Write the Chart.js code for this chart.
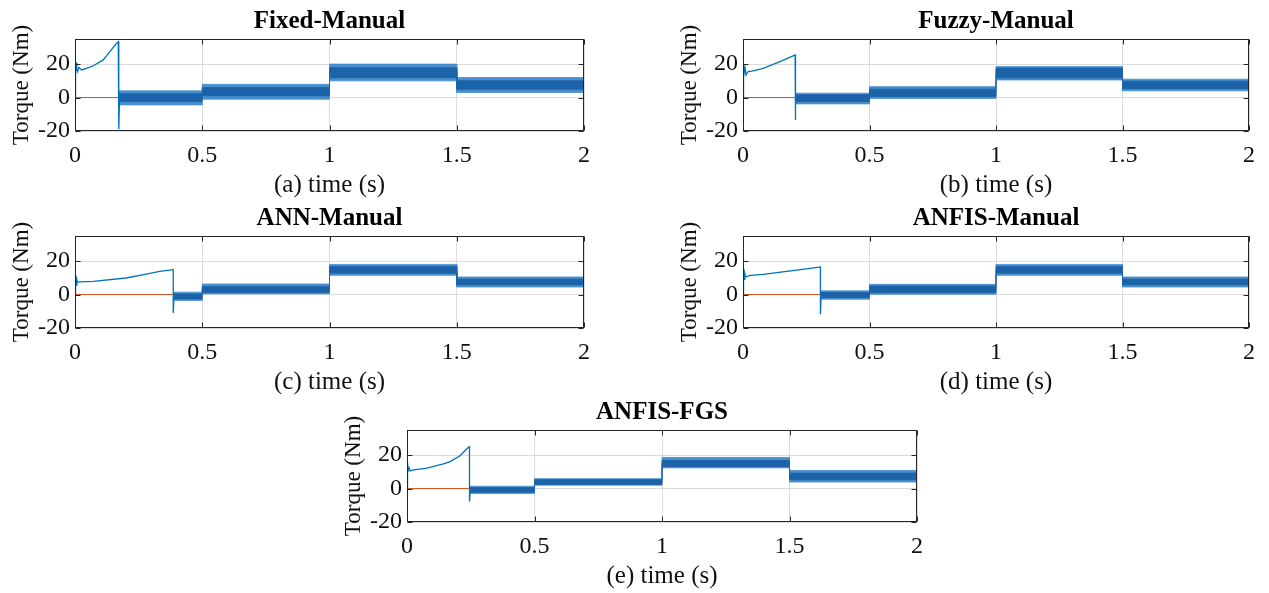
<!DOCTYPE html>
<html><head><meta charset="utf-8">
<script src="https://cdn.jsdelivr.net/npm/chart.js@4.4.1/dist/chart.umd.min.js"></script>
<style>
html,body{margin:0;padding:0;background:#fff;width:1269px;height:593px;overflow:hidden;position:relative}
canvas{position:absolute}
</style></head><body>
<canvas id="p0"></canvas><canvas id="p1"></canvas><canvas id="p2"></canvas><canvas id="p3"></canvas><canvas id="p4"></canvas>
<script>
// ---------- data ----------
const panelTitles = ['Fixed-Manual', 'Fuzzy-Manual', 'ANN-Manual', 'ANFIS-Manual', 'ANFIS-FGS'];
const xAxisTitles = ['(a) time (s)', '(b) time (s)', '(c) time (s)', '(d) time (s)', '(e) time (s)'];
const yAxisTitle = 'Torque (Nm)';
const timeTicks = [0, 0.5, 1, 1.5, 2];
const torqueTicks = [-20, 0, 20];

// reference (load) torque, red step line
const refTimes = [0, 0.5, 1, 1.5, 2];
const refTorque = [0, 3.5, 15, 7.5];

// start-up transient of the measured torque (time s, torque Nm)
const transTimeA = [0, 0.002, 0.004, 0.007, 0.010, 0.015, 0.026, 0.045, 0.072, 0.111, 0.137, 0.163, 0.170, 0.172, 0.172, 0.175];
const transTorqueA = [0, 12, 21, 17, 15.5, 18, 16.5, 17.5, 19, 22.5, 27.4, 32.4, 33.4, 33.6, -19, 0];
const transTimeB = [0, 0.002, 0.004, 0.008, 0.012, 0.020, 0.040, 0.080, 0.146, 0.198, 0.205, 0.206, 0.206, 0.209];
const transTorqueB = [0, 20, 14, 18, 13.5, 15.5, 16, 17.5, 21.5, 24.9, 25.5, 25.5, -13.4, 0];
const transTimeC = [0, 0.002, 0.004, 0.007, 0.010, 0.020, 0.072, 0.200, 0.280, 0.333, 0.379, 0.386, 0.386, 0.389];
const transTorqueC = [0, 11.2, 5.5, 9, 7.3, 7.6, 7.9, 9.9, 12.2, 13.8, 14.8, 15, -11, -1];
const transTimeD = [0, 0.002, 0.004, 0.007, 0.010, 0.030, 0.080, 0.172, 0.251, 0.301, 0.306, 0.306, 0.309];
const transTorqueD = [0, 14.5, 9.1, 12.5, 10.5, 11.5, 12.1, 13.9, 15.4, 16.4, 16.5, -11.7, -0.5];
const transTimeE = [0, 0.002, 0.004, 0.008, 0.012, 0.026, 0.078, 0.143, 0.169, 0.208, 0.240, 0.245, 0.245, 0.248];
const transTorqueE = [0, 15.7, 10.5, 12.5, 10.5, 11.2, 12.2, 14.7, 16.1, 19.6, 24.5, 25, -7.8, -0.8];

// controller switch-in time per panel (start of the ripple band)
const switchTimes = [0.172, 0.206, 0.386, 0.306, 0.245];

// ripple band envelopes per panel, one value per load segment
// segments: [switch..0.5], [0.5..1], [1..1.5], [1.5..2]
const outerHigh = [[4, 7.9, 20, 12], [2.6, 6.5, 18.5, 11], [1.4, 6.3, 18, 10.5], [2.2, 6.1, 18, 10.5], [1.4, 5.9, 18.6, 10.8]];
const outerLow  = [[-4.4, -1, 10, 3], [-3.8, -0.6, 10.5, 4], [-3.5, 0.4, 11.5, 4.5], [-2.8, 0.2, 11.5, 4.5], [-3, 2, 12.4, 3.9]];
const coreHigh  = [[2.2, 6, 17.8, 10], [1.6, 5, 17.6, 9.8], [0.4, 4.7, 16.8, 9.2], [1.2, 5.1, 16.8, 9.2], [0.6, 5.3, 16.7, 9.2]];
const coreLow   = [[-2.4, 1, 11.9, 5], [-2.4, 0.6, 11.8, 5.3], [-2.6, 1.4, 12.8, 5.8], [-1.8, 1.2, 12.8, 5.8], [-2.2, 2.5, 13.1, 5.3]];

const transTimes = [transTimeA, transTimeB, transTimeC, transTimeD, transTimeE];
const transTorques = [transTorqueA, transTorqueB, transTorqueC, transTorqueD, transTorqueE];

// ---------- layout (plot-area geometry in page pixels) ----------
const plotBoxes = [
  {left: 75, right: 585, top: 39},
  {left: 743, right: 1250, top: 39},
  {left: 75, right: 585, top: 236},
  {left: 743, right: 1250, top: 236},
  {left: 407, right: 918, top: 430}
];
const Y_AXIS_W = 75, RIGHT_PAD = 15, TITLE_H = 39, PLOT_H = 92, X_AXIS_H = 69;

const BLUE = 'rgb(0,114,189)';
const CORE = 'rgb(28,98,168)';
const OUTER = 'rgb(70,142,205)';
const RED = 'rgb(217,83,25)';
const TXT = '#111111';
const FONT = 'Liberation Serif';

function stepPoints(edges, values) {
  const pts = [];
  values.forEach((v, i) => { pts.push({x: edges[i], y: v}, {x: edges[i + 1], y: v}); });
  return pts;
}

const boxPlugin = {
  id: 'matlabBox',
  afterDatasetsDraw(chart) {
    const {ctx, chartArea: a, scales} = chart;
    ctx.save();
    ctx.strokeStyle = '#262626';
    ctx.lineWidth = 1;
    const l = Math.round(a.left) + 0.5, r = Math.round(a.right) - 0.5;
    const t = Math.round(a.top) + 0.5, b = Math.round(a.bottom) - 0.5;
    ctx.strokeRect(l, t, r - l, b - t);
    ctx.beginPath();
    timeTicks.forEach(v => {
      const px = Math.round(scales.x.getPixelForValue(v)) + 0.5;
      ctx.moveTo(px, b); ctx.lineTo(px, b - 5);
      ctx.moveTo(px, t); ctx.lineTo(px, t + 5);
    });
    torqueTicks.forEach(v => {
      const py = Math.round(scales.y.getPixelForValue(v)) + 0.5;
      ctx.moveTo(l, py); ctx.lineTo(l + 5, py);
      ctx.moveTo(r, py); ctx.lineTo(r - 5, py);
    });
    ctx.stroke();
    ctx.restore();
  }
};

plotBoxes.forEach((pb, p) => {
  const cv = document.getElementById('p' + p);
  const w = Y_AXIS_W + (pb.right - pb.left) + RIGHT_PAD;
  const h = TITLE_H + PLOT_H + X_AXIS_H;
  cv.width = w; cv.height = h;
  cv.style.width = w + 'px'; cv.style.height = h + 'px';
  cv.style.left = (pb.left - Y_AXIS_W) + 'px';
  cv.style.top = (pb.top - TITLE_H) + 'px';

  const segEdges = [switchTimes[p], 0.5, 1, 1.5, 2];
  const trans = transTimes[p].map((t, i) => ({x: t, y: transTorques[p][i]}));
  const line = {pointRadius: 0, pointHoverRadius: 0, tension: 0};

  new Chart(cv, {
    type: 'line',
    data: {
      datasets: [
        Object.assign({label: 'torque', data: trans, borderColor: BLUE, borderWidth: 1.3, fill: false}, line),
        Object.assign({label: 'core+', data: stepPoints(segEdges, coreHigh[p]), borderColor: CORE, backgroundColor: CORE, borderWidth: 0.8, fill: '+1'}, line),
        Object.assign({label: 'core-', data: stepPoints(segEdges, coreLow[p]), borderColor: CORE, borderWidth: 0.8, fill: false}, line),
        Object.assign({label: 'ripple+', data: stepPoints(segEdges, outerHigh[p]), borderColor: OUTER, backgroundColor: OUTER, borderWidth: 0.8, fill: '+1'}, line),
        Object.assign({label: 'ripple-', data: stepPoints(segEdges, outerLow[p]), borderColor: OUTER, borderWidth: 0.8, fill: false}, line),
        Object.assign({label: 'reference', data: stepPoints(refTimes, refTorque), borderColor: RED, borderWidth: 1, fill: false}, line)
      ]
    },
    options: {
      responsive: false,
      animation: false,
      devicePixelRatio: 1,
      layout: {padding: {left: 0, right: RIGHT_PAD, top: 0, bottom: 0}},
      plugins: {
        legend: {display: false},
        tooltip: {enabled: false},
        title: {
          display: true, text: panelTitles[p], fullSize: false, color: '#000',
          font: {family: FONT, size: 25, weight: 'bold', lineHeight: 1.2},
          padding: {top: 7, bottom: 2}
        }
      },
      scales: {
        x: {
          type: 'linear', min: 0, max: 2,
          afterBuildTicks: s => { s.ticks = timeTicks.map(v => ({value: v})); },
          afterFit: s => { s.height = X_AXIS_H; },
          ticks: {color: TXT, font: {family: FONT, size: 24, lineHeight: 1.2}, padding: 10, maxRotation: 0, autoSkip: false, callback: v => String(v)},
          grid: {color: '#dcdcdc', lineWidth: 1, drawTicks: false},
          border: {display: false},
          title: {display: true, text: xAxisTitles[p], color: TXT, font: {family: FONT, size: 25, lineHeight: 1.2}, padding: {top: 0, bottom: 0}}
        },
        y: {
          min: -20, max: 35,
          afterBuildTicks: s => { s.ticks = torqueTicks.map(v => ({value: v})); },
          afterFit: s => { s.width = Y_AXIS_W; },
          ticks: {color: TXT, font: {family: FONT, size: 24, lineHeight: 1.2}, padding: 5, callback: v => String(v)},
          grid: {color: '#dcdcdc', lineWidth: 1, drawTicks: false},
          border: {display: false},
          title: {display: true, text: yAxisTitle, color: TXT, font: {family: FONT, size: 23, lineHeight: 1.2}, padding: {top: 8, bottom: 0}}
        }
      }
    },
    plugins: [boxPlugin]
  });
});
</script>
</body></html>
